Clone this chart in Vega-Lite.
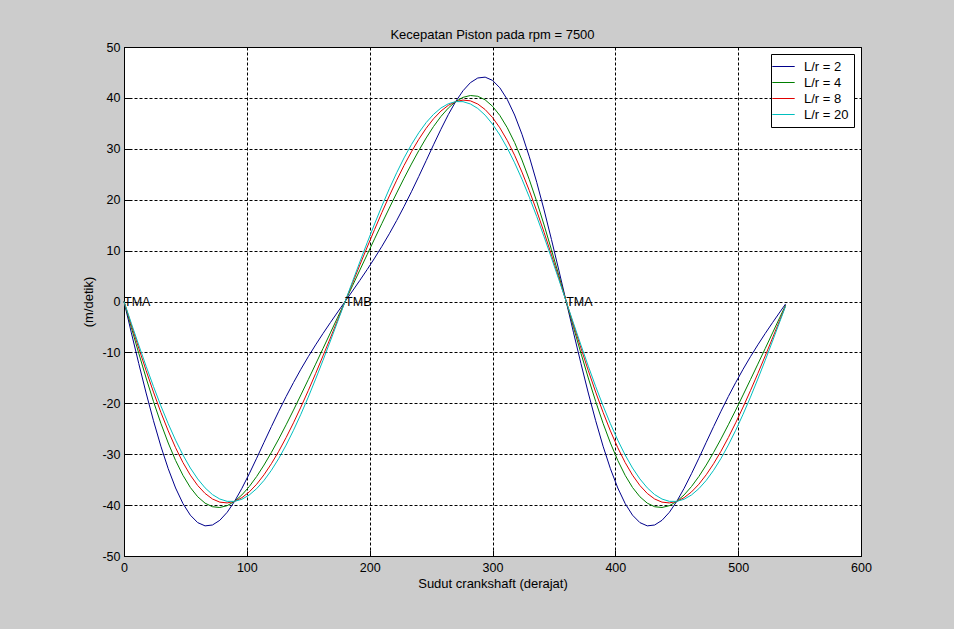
{
  "$schema": "https://vega.github.io/schema/vega-lite/v6.json",
  "description": "Kecepatan piston terhadap sudut crankshaft untuk beberapa L/r.",
  "width": 737,
  "height": 509,
  "autosize": "none",
  "padding": {"left": 124, "top": 47, "right": 93, "bottom": 73},
  "background": "#cccccc",
  "title": {
    "text": "Kecepatan Piston pada rpm = 7500",
    "fontSize": 13,
    "fontWeight": "normal",
    "color": "black",
    "offset": -1
  },
  "layer": [
    {
      "data": {
        "values": [
          {"deg":0,"ratio":2,"v":0},{"deg":6,"ratio":2,"v":-6.15},{"deg":12,"ratio":2,"v":-12.18},{"deg":18,"ratio":2,"v":-17.98},{"deg":24,"ratio":2,"v":-23.42},{"deg":30,"ratio":2,"v":-28.42},{"deg":36,"ratio":2,"v":-32.85},{"deg":42,"ratio":2,"v":-36.64},{"deg":48,"ratio":2,"v":-39.7},{"deg":54,"ratio":2,"v":-41.98},{"deg":60,"ratio":2,"v":-43.44},{"deg":66,"ratio":2,"v":-44.08},{"deg":72,"ratio":2,"v":-43.91},{"deg":78,"ratio":2,"v":-42.99},{"deg":84,"ratio":2,"v":-41.41},{"deg":90,"ratio":2,"v":-39.27},{"deg":96,"ratio":2,"v":-36.7},{"deg":102,"ratio":2,"v":-33.83},{"deg":108,"ratio":2,"v":-30.79},{"deg":114,"ratio":2,"v":-27.67},{"deg":120,"ratio":2,"v":-24.58},{"deg":126,"ratio":2,"v":-21.56},{"deg":132,"ratio":2,"v":-18.67},{"deg":138,"ratio":2,"v":-15.92},{"deg":144,"ratio":2,"v":-13.31},{"deg":150,"ratio":2,"v":-10.85},{"deg":156,"ratio":2,"v":-8.52},{"deg":162,"ratio":2,"v":-6.29},{"deg":168,"ratio":2,"v":-4.15},{"deg":174,"ratio":2,"v":-2.06},{"deg":180,"ratio":2,"v":0},
          {"deg":186,"ratio":2,"v":2.06},{"deg":192,"ratio":2,"v":4.15},{"deg":198,"ratio":2,"v":6.29},{"deg":204,"ratio":2,"v":8.52},{"deg":210,"ratio":2,"v":10.85},{"deg":216,"ratio":2,"v":13.31},{"deg":222,"ratio":2,"v":15.92},{"deg":228,"ratio":2,"v":18.67},{"deg":234,"ratio":2,"v":21.56},{"deg":240,"ratio":2,"v":24.58},{"deg":246,"ratio":2,"v":27.67},{"deg":252,"ratio":2,"v":30.79},{"deg":258,"ratio":2,"v":33.83},{"deg":264,"ratio":2,"v":36.7},{"deg":270,"ratio":2,"v":39.27},{"deg":276,"ratio":2,"v":41.41},{"deg":282,"ratio":2,"v":42.99},{"deg":288,"ratio":2,"v":43.91},{"deg":294,"ratio":2,"v":44.08},{"deg":300,"ratio":2,"v":43.44},{"deg":306,"ratio":2,"v":41.98},{"deg":312,"ratio":2,"v":39.7},{"deg":318,"ratio":2,"v":36.64},{"deg":324,"ratio":2,"v":32.85},{"deg":330,"ratio":2,"v":28.42},{"deg":336,"ratio":2,"v":23.42},{"deg":342,"ratio":2,"v":17.98},{"deg":348,"ratio":2,"v":12.18},{"deg":354,"ratio":2,"v":6.15},{"deg":360,"ratio":2,"v":0},
          {"deg":366,"ratio":2,"v":-6.15},{"deg":372,"ratio":2,"v":-12.18},{"deg":378,"ratio":2,"v":-17.98},{"deg":384,"ratio":2,"v":-23.42},{"deg":390,"ratio":2,"v":-28.42},{"deg":396,"ratio":2,"v":-32.85},{"deg":402,"ratio":2,"v":-36.64},{"deg":408,"ratio":2,"v":-39.7},{"deg":414,"ratio":2,"v":-41.98},{"deg":420,"ratio":2,"v":-43.44},{"deg":426,"ratio":2,"v":-44.08},{"deg":432,"ratio":2,"v":-43.91},{"deg":438,"ratio":2,"v":-42.99},{"deg":444,"ratio":2,"v":-41.41},{"deg":450,"ratio":2,"v":-39.27},{"deg":456,"ratio":2,"v":-36.7},{"deg":462,"ratio":2,"v":-33.83},{"deg":468,"ratio":2,"v":-30.79},{"deg":474,"ratio":2,"v":-27.67},{"deg":480,"ratio":2,"v":-24.58},{"deg":486,"ratio":2,"v":-21.56},{"deg":492,"ratio":2,"v":-18.67},{"deg":498,"ratio":2,"v":-15.92},{"deg":504,"ratio":2,"v":-13.31},{"deg":510,"ratio":2,"v":-10.85},{"deg":516,"ratio":2,"v":-8.52},{"deg":522,"ratio":2,"v":-6.29},{"deg":528,"ratio":2,"v":-4.15},{"deg":534,"ratio":2,"v":-2.06},{"deg":538.6,"ratio":2,"v":-0.48},

          {"deg":0,"ratio":4,"v":0},{"deg":6,"ratio":4,"v":-5.13},{"deg":12,"ratio":4,"v":-10.16},{"deg":18,"ratio":4,"v":-15.03},{"deg":24,"ratio":4,"v":-19.64},{"deg":30,"ratio":4,"v":-23.92},{"deg":36,"ratio":4,"v":-27.8},{"deg":42,"ratio":4,"v":-31.23},{"deg":48,"ratio":4,"v":-34.15},{"deg":54,"ratio":4,"v":-36.54},{"deg":60,"ratio":4,"v":-38.36},{"deg":66,"ratio":4,"v":-39.62},{"deg":72,"ratio":4,"v":-40.32},{"deg":78,"ratio":4,"v":-40.47},{"deg":84,"ratio":4,"v":-40.11},{"deg":90,"ratio":4,"v":-39.27},{"deg":96,"ratio":4,"v":-38},{"deg":102,"ratio":4,"v":-36.35},{"deg":108,"ratio":4,"v":-34.38},{"deg":114,"ratio":4,"v":-32.13},{"deg":120,"ratio":4,"v":-29.65},{"deg":126,"ratio":4,"v":-27},{"deg":132,"ratio":4,"v":-24.22},{"deg":138,"ratio":4,"v":-21.33},{"deg":144,"ratio":4,"v":-18.36},{"deg":150,"ratio":4,"v":-15.35},{"deg":156,"ratio":4,"v":-12.31},{"deg":162,"ratio":4,"v":-9.24},{"deg":168,"ratio":4,"v":-6.17},{"deg":174,"ratio":4,"v":-3.08},{"deg":180,"ratio":4,"v":0},
          {"deg":186,"ratio":4,"v":3.08},{"deg":192,"ratio":4,"v":6.17},{"deg":198,"ratio":4,"v":9.24},{"deg":204,"ratio":4,"v":12.31},{"deg":210,"ratio":4,"v":15.35},{"deg":216,"ratio":4,"v":18.36},{"deg":222,"ratio":4,"v":21.33},{"deg":228,"ratio":4,"v":24.22},{"deg":234,"ratio":4,"v":27},{"deg":240,"ratio":4,"v":29.65},{"deg":246,"ratio":4,"v":32.13},{"deg":252,"ratio":4,"v":34.38},{"deg":258,"ratio":4,"v":36.35},{"deg":264,"ratio":4,"v":38},{"deg":270,"ratio":4,"v":39.27},{"deg":276,"ratio":4,"v":40.11},{"deg":282,"ratio":4,"v":40.47},{"deg":288,"ratio":4,"v":40.32},{"deg":294,"ratio":4,"v":39.62},{"deg":300,"ratio":4,"v":38.36},{"deg":306,"ratio":4,"v":36.54},{"deg":312,"ratio":4,"v":34.15},{"deg":318,"ratio":4,"v":31.23},{"deg":324,"ratio":4,"v":27.8},{"deg":330,"ratio":4,"v":23.92},{"deg":336,"ratio":4,"v":19.64},{"deg":342,"ratio":4,"v":15.03},{"deg":348,"ratio":4,"v":10.16},{"deg":354,"ratio":4,"v":5.13},{"deg":360,"ratio":4,"v":0},
          {"deg":366,"ratio":4,"v":-5.13},{"deg":372,"ratio":4,"v":-10.16},{"deg":378,"ratio":4,"v":-15.03},{"deg":384,"ratio":4,"v":-19.64},{"deg":390,"ratio":4,"v":-23.92},{"deg":396,"ratio":4,"v":-27.8},{"deg":402,"ratio":4,"v":-31.23},{"deg":408,"ratio":4,"v":-34.15},{"deg":414,"ratio":4,"v":-36.54},{"deg":420,"ratio":4,"v":-38.36},{"deg":426,"ratio":4,"v":-39.62},{"deg":432,"ratio":4,"v":-40.32},{"deg":438,"ratio":4,"v":-40.47},{"deg":444,"ratio":4,"v":-40.11},{"deg":450,"ratio":4,"v":-39.27},{"deg":456,"ratio":4,"v":-38},{"deg":462,"ratio":4,"v":-36.35},{"deg":468,"ratio":4,"v":-34.38},{"deg":474,"ratio":4,"v":-32.13},{"deg":480,"ratio":4,"v":-29.65},{"deg":486,"ratio":4,"v":-27},{"deg":492,"ratio":4,"v":-24.22},{"deg":498,"ratio":4,"v":-21.33},{"deg":504,"ratio":4,"v":-18.36},{"deg":510,"ratio":4,"v":-15.35},{"deg":516,"ratio":4,"v":-12.31},{"deg":522,"ratio":4,"v":-9.24},{"deg":528,"ratio":4,"v":-6.17},{"deg":534,"ratio":4,"v":-3.08},{"deg":538.6,"ratio":4,"v":-0.72},

          {"deg":0,"ratio":8,"v":0},{"deg":6,"ratio":8,"v":-4.62},{"deg":12,"ratio":8,"v":-9.16},{"deg":18,"ratio":8,"v":-13.58},{"deg":24,"ratio":8,"v":-17.8},{"deg":30,"ratio":8,"v":-21.77},{"deg":36,"ratio":8,"v":-25.42},{"deg":42,"ratio":8,"v":-28.73},{"deg":48,"ratio":8,"v":-31.64},{"deg":54,"ratio":8,"v":-34.12},{"deg":60,"ratio":8,"v":-36.15},{"deg":66,"ratio":8,"v":-37.71},{"deg":72,"ratio":8,"v":-38.8},{"deg":78,"ratio":8,"v":-39.42},{"deg":84,"ratio":8,"v":-39.57},{"deg":90,"ratio":8,"v":-39.27},{"deg":96,"ratio":8,"v":-38.54},{"deg":102,"ratio":8,"v":-37.41},{"deg":108,"ratio":8,"v":-35.9},{"deg":114,"ratio":8,"v":-34.04},{"deg":120,"ratio":8,"v":-31.87},{"deg":126,"ratio":8,"v":-29.42},{"deg":132,"ratio":8,"v":-26.73},{"deg":138,"ratio":8,"v":-23.83},{"deg":144,"ratio":8,"v":-20.74},{"deg":150,"ratio":8,"v":-17.51},{"deg":156,"ratio":8,"v":-14.15},{"deg":162,"ratio":8,"v":-10.69},{"deg":168,"ratio":8,"v":-7.17},{"deg":174,"ratio":8,"v":-3.6},{"deg":180,"ratio":8,"v":0},
          {"deg":186,"ratio":8,"v":3.6},{"deg":192,"ratio":8,"v":7.17},{"deg":198,"ratio":8,"v":10.69},{"deg":204,"ratio":8,"v":14.15},{"deg":210,"ratio":8,"v":17.51},{"deg":216,"ratio":8,"v":20.74},{"deg":222,"ratio":8,"v":23.83},{"deg":228,"ratio":8,"v":26.73},{"deg":234,"ratio":8,"v":29.42},{"deg":240,"ratio":8,"v":31.87},{"deg":246,"ratio":8,"v":34.04},{"deg":252,"ratio":8,"v":35.9},{"deg":258,"ratio":8,"v":37.41},{"deg":264,"ratio":8,"v":38.54},{"deg":270,"ratio":8,"v":39.27},{"deg":276,"ratio":8,"v":39.57},{"deg":282,"ratio":8,"v":39.42},{"deg":288,"ratio":8,"v":38.8},{"deg":294,"ratio":8,"v":37.71},{"deg":300,"ratio":8,"v":36.15},{"deg":306,"ratio":8,"v":34.12},{"deg":312,"ratio":8,"v":31.64},{"deg":318,"ratio":8,"v":28.73},{"deg":324,"ratio":8,"v":25.42},{"deg":330,"ratio":8,"v":21.77},{"deg":336,"ratio":8,"v":17.8},{"deg":342,"ratio":8,"v":13.58},{"deg":348,"ratio":8,"v":9.16},{"deg":354,"ratio":8,"v":4.62},{"deg":360,"ratio":8,"v":0},
          {"deg":366,"ratio":8,"v":-4.62},{"deg":372,"ratio":8,"v":-9.16},{"deg":378,"ratio":8,"v":-13.58},{"deg":384,"ratio":8,"v":-17.8},{"deg":390,"ratio":8,"v":-21.77},{"deg":396,"ratio":8,"v":-25.42},{"deg":402,"ratio":8,"v":-28.73},{"deg":408,"ratio":8,"v":-31.64},{"deg":414,"ratio":8,"v":-34.12},{"deg":420,"ratio":8,"v":-36.15},{"deg":426,"ratio":8,"v":-37.71},{"deg":432,"ratio":8,"v":-38.8},{"deg":438,"ratio":8,"v":-39.42},{"deg":444,"ratio":8,"v":-39.57},{"deg":450,"ratio":8,"v":-39.27},{"deg":456,"ratio":8,"v":-38.54},{"deg":462,"ratio":8,"v":-37.41},{"deg":468,"ratio":8,"v":-35.9},{"deg":474,"ratio":8,"v":-34.04},{"deg":480,"ratio":8,"v":-31.87},{"deg":486,"ratio":8,"v":-29.42},{"deg":492,"ratio":8,"v":-26.73},{"deg":498,"ratio":8,"v":-23.83},{"deg":504,"ratio":8,"v":-20.74},{"deg":510,"ratio":8,"v":-17.51},{"deg":516,"ratio":8,"v":-14.15},{"deg":522,"ratio":8,"v":-10.69},{"deg":528,"ratio":8,"v":-7.17},{"deg":534,"ratio":8,"v":-3.6},{"deg":538.6,"ratio":8,"v":-0.84},

          {"deg":0,"ratio":20,"v":0},{"deg":6,"ratio":20,"v":-4.31},{"deg":12,"ratio":20,"v":-8.56},{"deg":18,"ratio":20,"v":-12.71},{"deg":24,"ratio":20,"v":-16.7},{"deg":30,"ratio":20,"v":-20.49},{"deg":36,"ratio":20,"v":-24.02},{"deg":42,"ratio":20,"v":-27.25},{"deg":48,"ratio":20,"v":-30.16},{"deg":54,"ratio":20,"v":-32.71},{"deg":60,"ratio":20,"v":-34.86},{"deg":66,"ratio":20,"v":-36.61},{"deg":72,"ratio":20,"v":-37.93},{"deg":78,"ratio":20,"v":-38.81},{"deg":84,"ratio":20,"v":-39.26},{"deg":90,"ratio":20,"v":-39.27},{"deg":96,"ratio":20,"v":-38.85},{"deg":102,"ratio":20,"v":-38.01},{"deg":108,"ratio":20,"v":-36.77},{"deg":114,"ratio":20,"v":-35.15},{"deg":120,"ratio":20,"v":-33.16},{"deg":126,"ratio":20,"v":-30.84},{"deg":132,"ratio":20,"v":-28.21},{"deg":138,"ratio":20,"v":-25.3},{"deg":144,"ratio":20,"v":-22.15},{"deg":150,"ratio":20,"v":-18.79},{"deg":156,"ratio":20,"v":-15.24},{"deg":162,"ratio":20,"v":-11.56},{"deg":168,"ratio":20,"v":-7.77},{"deg":174,"ratio":20,"v":-3.9},{"deg":180,"ratio":20,"v":0},
          {"deg":186,"ratio":20,"v":3.9},{"deg":192,"ratio":20,"v":7.77},{"deg":198,"ratio":20,"v":11.56},{"deg":204,"ratio":20,"v":15.24},{"deg":210,"ratio":20,"v":18.79},{"deg":216,"ratio":20,"v":22.15},{"deg":222,"ratio":20,"v":25.3},{"deg":228,"ratio":20,"v":28.21},{"deg":234,"ratio":20,"v":30.84},{"deg":240,"ratio":20,"v":33.16},{"deg":246,"ratio":20,"v":35.15},{"deg":252,"ratio":20,"v":36.77},{"deg":258,"ratio":20,"v":38.01},{"deg":264,"ratio":20,"v":38.85},{"deg":270,"ratio":20,"v":39.27},{"deg":276,"ratio":20,"v":39.26},{"deg":282,"ratio":20,"v":38.81},{"deg":288,"ratio":20,"v":37.93},{"deg":294,"ratio":20,"v":36.61},{"deg":300,"ratio":20,"v":34.86},{"deg":306,"ratio":20,"v":32.71},{"deg":312,"ratio":20,"v":30.16},{"deg":318,"ratio":20,"v":27.25},{"deg":324,"ratio":20,"v":24.02},{"deg":330,"ratio":20,"v":20.49},{"deg":336,"ratio":20,"v":16.7},{"deg":342,"ratio":20,"v":12.71},{"deg":348,"ratio":20,"v":8.56},{"deg":354,"ratio":20,"v":4.31},{"deg":360,"ratio":20,"v":0},
          {"deg":366,"ratio":20,"v":-4.31},{"deg":372,"ratio":20,"v":-8.56},{"deg":378,"ratio":20,"v":-12.71},{"deg":384,"ratio":20,"v":-16.7},{"deg":390,"ratio":20,"v":-20.49},{"deg":396,"ratio":20,"v":-24.02},{"deg":402,"ratio":20,"v":-27.25},{"deg":408,"ratio":20,"v":-30.16},{"deg":414,"ratio":20,"v":-32.71},{"deg":420,"ratio":20,"v":-34.86},{"deg":426,"ratio":20,"v":-36.61},{"deg":432,"ratio":20,"v":-37.93},{"deg":438,"ratio":20,"v":-38.81},{"deg":444,"ratio":20,"v":-39.26},{"deg":450,"ratio":20,"v":-39.27},{"deg":456,"ratio":20,"v":-38.85},{"deg":462,"ratio":20,"v":-38.01},{"deg":468,"ratio":20,"v":-36.77},{"deg":474,"ratio":20,"v":-35.15},{"deg":480,"ratio":20,"v":-33.16},{"deg":486,"ratio":20,"v":-30.84},{"deg":492,"ratio":20,"v":-28.21},{"deg":498,"ratio":20,"v":-25.3},{"deg":504,"ratio":20,"v":-22.15},{"deg":510,"ratio":20,"v":-18.79},{"deg":516,"ratio":20,"v":-15.24},{"deg":522,"ratio":20,"v":-11.56},{"deg":528,"ratio":20,"v":-7.77},{"deg":534,"ratio":20,"v":-3.9},{"deg":538.6,"ratio":20,"v":-0.91}
        ]
      },
      "mark": {"type": "line", "strokeWidth": 1},
      "encoding": {
        "x": {
          "field": "deg",
          "type": "quantitative",
          "title": "Sudut crankshaft (derajat)",
          "scale": {"domain": [0, 600], "nice": false},
          "axis": {"values": [0, 100, 200, 300, 400, 500, 600], "labelPadding": 11, "titlePadding": 4}
        },
        "y": {
          "field": "v",
          "type": "quantitative",
          "title": "(m/detik)",
          "scale": {"domain": [-50, 50], "nice": false},
          "axis": {"values": [-50, -40, -30, -20, -10, 0, 10, 20, 30, 40, 50], "labelPadding": 10, "titlePadding": 6}
        },
        "color": {
          "field": "ratio",
          "type": "nominal",
          "scale": {
            "domain": [2, 4, 8, 20],
            "range": ["#00008b", "#007f00", "#e00000", "#00bfbf"]
          },
          "legend": {"labelExpr": "'L/r = ' + datum.label"}
        }
      }
    },
    {
      "data": {
        "values": [
          {"deg": 0, "v": 0, "label": "TMA"},
          {"deg": 180, "v": 0, "label": "TMB"},
          {"deg": 360, "v": 0, "label": "TMA"}
        ]
      },
      "mark": {"type": "text", "align": "left", "baseline": "middle", "fontSize": 12.5, "color": "black"},
      "encoding": {
        "x": {"field": "deg", "type": "quantitative"},
        "y": {"field": "v", "type": "quantitative"},
        "text": {"field": "label", "type": "nominal"}
      }
    }
  ],
  "config": {
    "font": "Liberation Sans",
    "view": {"stroke": "black", "strokeWidth": 1, "fill": "white"},
    "axis": {
      "domainColor": "black",
      "grid": true,
      "gridColor": "black",
      "gridDash": [3, 2],
      "gridOpacity": 1,
      "gridWidth": 1,
      "ticks": true,
      "tickSize": -6,
      "tickColor": "black",
      "labelFlush": false,
      "labelFontSize": 12.5,
      "labelColor": "black",
      "labelExpr": "'' + datum.value",
      "titleFontSize": 13,
      "titleFontWeight": "normal",
      "titleColor": "black"
    },
    "legend": {
      "orient": "top-right",
      "offset": 7,
      "title": null,
      "strokeColor": "black",
      "fillColor": "white",
      "padding": 5,
      "cornerRadius": 0,
      "symbolType": "M-1.6,0H1.6",
      "symbolSize": 196,
      "symbolStrokeWidth": 1,
      "labelFontSize": 13,
      "labelColor": "black",
      "labelOffset": 13,
      "rowPadding": 1
    }
  }
}
